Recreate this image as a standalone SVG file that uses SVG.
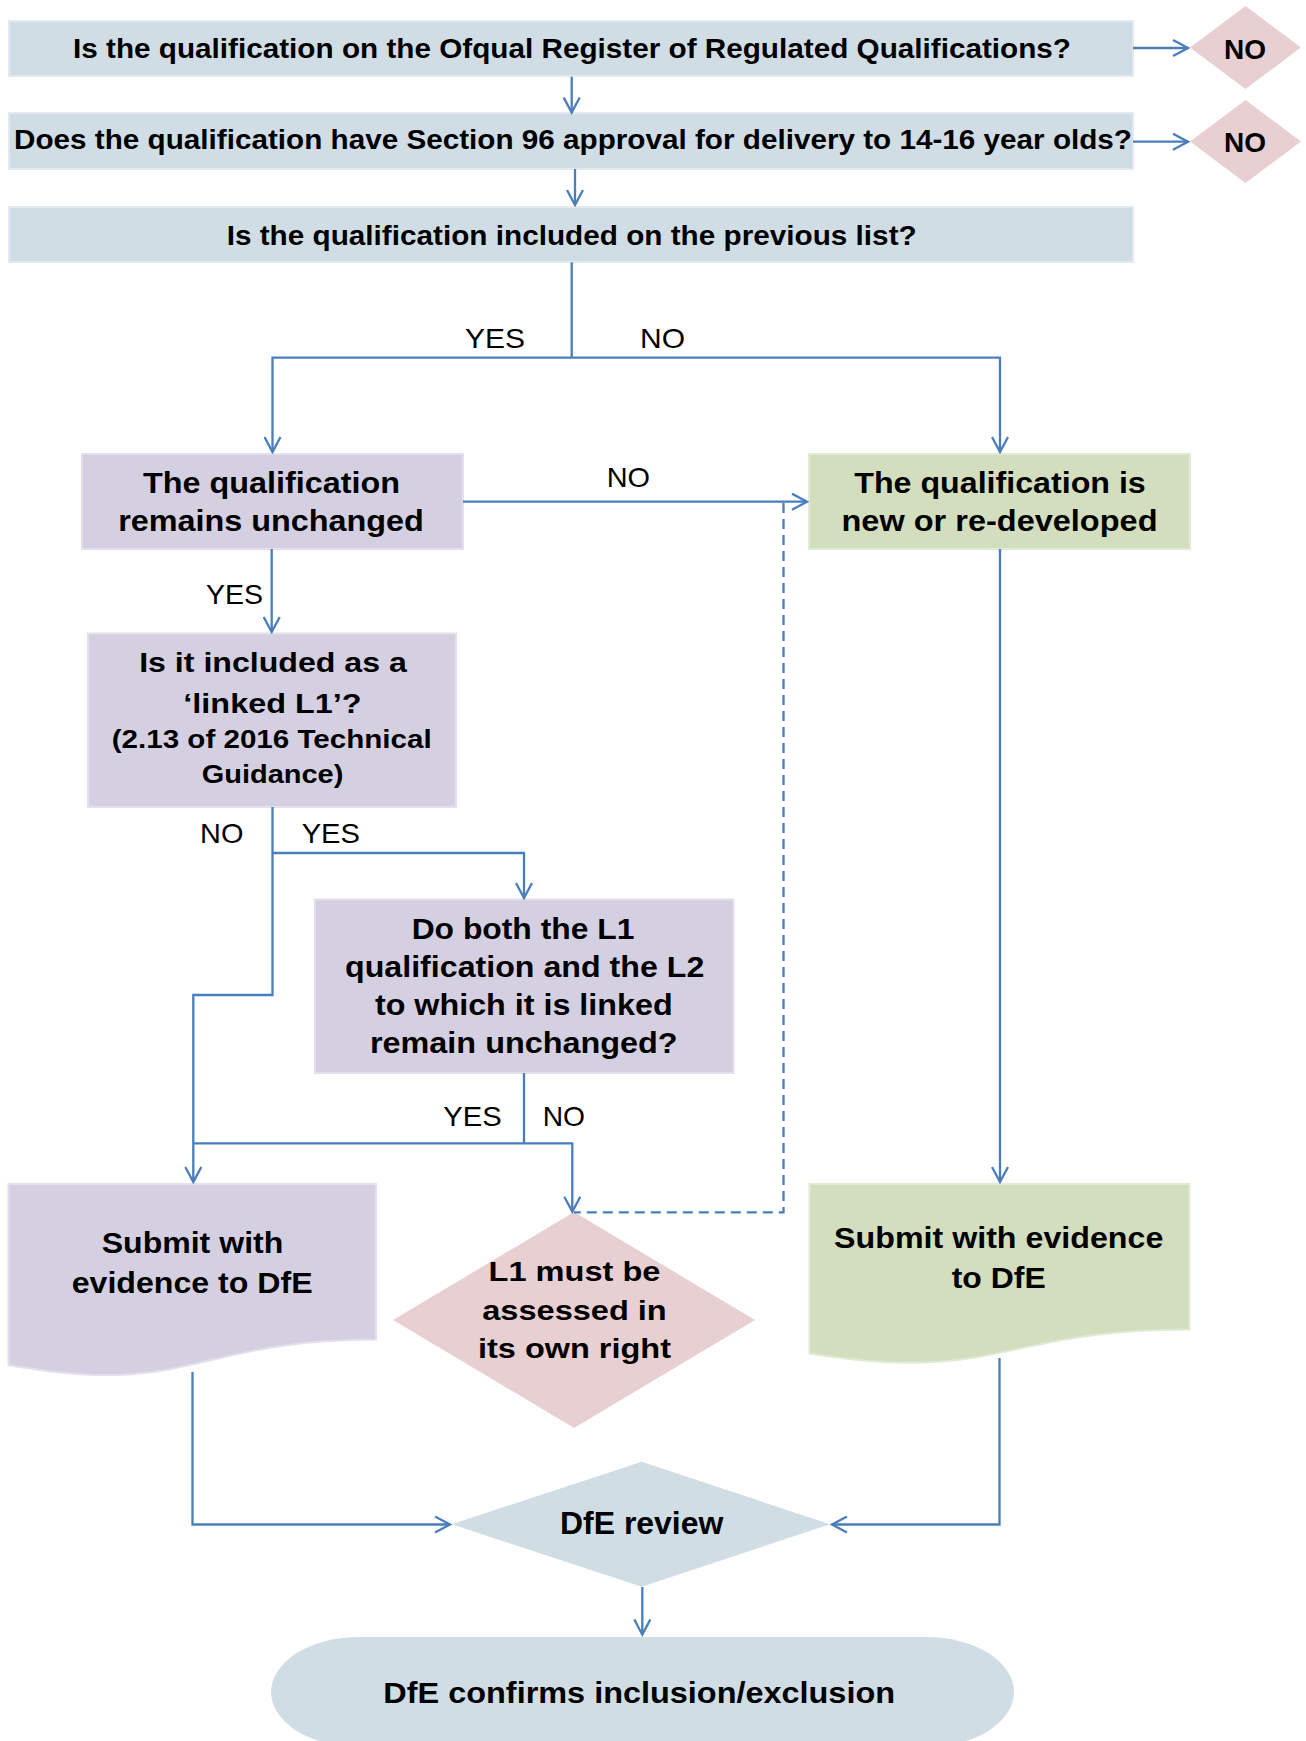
<svg xmlns="http://www.w3.org/2000/svg" width="1306" height="1741" viewBox="0 0 1306 1741">
<style>
.b{font-family:"Liberation Sans",Arial,sans-serif;font-weight:bold;fill:#000;text-anchor:middle}
.r{font-family:"Liberation Sans",Arial,sans-serif;font-weight:normal;fill:#000;text-anchor:middle;font-size:28px}
.blue{fill:#D0DDE5;stroke:#E2EAF0;stroke-width:2}
.purple{fill:#D5D0E1;stroke:#E3DFEC;stroke-width:2}
.green{fill:#D2DEBE;stroke:#E1EAD4;stroke-width:2}
.pink{fill:#E8D0D2}
.c{fill:none;stroke:#4A7EBB;stroke-width:2.3}
.d{fill:none;stroke:#4A7EBB;stroke-width:2.3;stroke-dasharray:10 6}
</style>
<defs>
<marker id="ah" viewBox="0 0 18 18" markerWidth="18" markerHeight="18" refX="16" refY="9" orient="auto" markerUnits="userSpaceOnUse">
<path d="M1,1 L16,9 L1,17" fill="none" stroke="#4A7EBB" stroke-width="2.3"/>
</marker>
</defs>

<g id="q1">
<rect class="blue" x="9" y="21" width="1124" height="55"/>
<text class="b" x="572" y="57.5" font-size="28.5" textLength="998" lengthAdjust="spacingAndGlyphs">Is the qualification on the Ofqual Register of Regulated Qualifications?</text>
</g>
<g id="no1">
<polygon class="pink" points="1190,47.5 1245.5,6 1301,47.5 1245.5,89"/>
<text class="b" x="1245" y="59.3" font-size="28">NO</text>
</g>
<g id="q2">
<rect class="blue" x="9" y="113" width="1124" height="56"/>
<text class="b" x="573" y="149.3" font-size="28.5" textLength="1118" lengthAdjust="spacingAndGlyphs">Does the qualification  have Section 96 approval for delivery to 14-16 year olds?</text>
</g>
<g id="no2">
<polygon class="pink" points="1190,141.5 1245.5,100 1301,141.5 1245.5,183"/>
<text class="b" x="1245" y="151.5" font-size="28">NO</text>
</g>
<g id="q3">
<rect class="blue" x="9" y="207" width="1124" height="55"/>
<text class="b" x="571.7" y="244.5" font-size="28.5" textLength="690" lengthAdjust="spacingAndGlyphs">Is the qualification  included on the previous list?</text>
</g>
<g id="unchanged">
<rect class="purple" x="82" y="454" width="381" height="95"/>
<text class="b" x="271.5" y="493.3" font-size="30" textLength="257" lengthAdjust="spacingAndGlyphs">The qualification</text>
<text class="b" x="271" y="531" font-size="30" textLength="305.7" lengthAdjust="spacingAndGlyphs">remains unchanged</text>
</g>
<g id="newqual">
<rect class="green" x="809" y="454" width="381" height="95"/>
<text class="b" x="1000" y="493.3" font-size="30" textLength="291.5" lengthAdjust="spacingAndGlyphs">The qualification is</text>
<text class="b" x="999.5" y="531" font-size="30" textLength="316" lengthAdjust="spacingAndGlyphs">new or re-developed</text>
</g>
<g id="linked">
<rect class="purple" x="88" y="633.5" width="368" height="173.5"/>
<text class="b" x="273" y="672.3" font-size="27" textLength="267.7" lengthAdjust="spacingAndGlyphs">Is it included as a</text>
<text class="b" x="272.5" y="712.7" font-size="27" textLength="178.3" lengthAdjust="spacingAndGlyphs">‘linked L1’?</text>
<text class="b" x="271.7" y="748.3" font-size="25.5" textLength="320" lengthAdjust="spacingAndGlyphs">(2.13 of 2016 Technical</text>
<text class="b" x="272.5" y="783.3" font-size="25.5" textLength="141.7" lengthAdjust="spacingAndGlyphs">Guidance)</text>
</g>
<g id="both">
<rect class="purple" x="315" y="899.5" width="418.5" height="173.5"/>
<text class="b" x="523" y="939" font-size="30" textLength="222.7" lengthAdjust="spacingAndGlyphs">Do both the L1</text>
<text class="b" x="524.7" y="976.7" font-size="30" textLength="359.3" lengthAdjust="spacingAndGlyphs">qualification and the L2</text>
<text class="b" x="523.8" y="1015" font-size="30" textLength="297.7" lengthAdjust="spacingAndGlyphs">to which it is linked</text>
<text class="b" x="523.8" y="1053.3" font-size="30" textLength="307.7" lengthAdjust="spacingAndGlyphs">remain unchanged?</text>
</g>
<g id="submit1">
<path class="purple" d="M8.5,1184 H376 V1339.5 C192,1339.5 192,1398 8.5,1365 Z"/>
<text class="b" x="192.5" y="1253.3" font-size="30" textLength="181.6" lengthAdjust="spacingAndGlyphs">Submit with</text>
<text class="b" x="192.2" y="1293.3" font-size="30" textLength="241" lengthAdjust="spacingAndGlyphs">evidence to DfE</text>
</g>
<g id="assess">
<polygon class="pink" points="393,1320 574,1212 755,1320 574,1428"/>
<text class="b" x="574.5" y="1281" font-size="27.5" textLength="172" lengthAdjust="spacingAndGlyphs">L1 must be</text>
<text class="b" x="574.5" y="1320" font-size="27.5" textLength="184.5" lengthAdjust="spacingAndGlyphs">assessed in</text>
<text class="b" x="574.5" y="1358" font-size="27.5" textLength="193" lengthAdjust="spacingAndGlyphs">its own right</text>
</g>
<g id="submit2">
<path class="green" d="M809.5,1184 H1189.5 V1329.5 C999.5,1329.5 999.5,1384 809.5,1353.5 Z"/>
<text class="b" x="998.7" y="1248.3" font-size="30" textLength="329.3" lengthAdjust="spacingAndGlyphs">Submit with evidence</text>
<text class="b" x="998.7" y="1288.3" font-size="30" textLength="94" lengthAdjust="spacingAndGlyphs">to DfE</text>
</g>
<g id="review">
<polygon fill="#D0DDE5" points="451.7,1524.3 641.7,1461.7 830,1524.3 641.7,1586.7"/>
<text class="b" x="641.7" y="1534.3" font-size="31" textLength="163.3" lengthAdjust="spacingAndGlyphs">DfE review</text>
</g>
<g id="confirm">
<rect fill="#D0DDE5" x="271" y="1637" width="743" height="110" rx="88" ry="55"/>
<text class="b" x="639.2" y="1703.3" font-size="30" textLength="511.7" lengthAdjust="spacingAndGlyphs">DfE confirms inclusion/exclusion</text>
</g>

<g id="connectors">
<path class="c" d="M1133,48 H1188" marker-end="url(#ah)"/>
<path class="c" d="M1133,141.7 H1188" marker-end="url(#ah)"/>
<path class="c" d="M571.7,76.7 V112.5" marker-end="url(#ah)"/>
<path class="c" d="M575,169 V205" marker-end="url(#ah)"/>
<path class="c" d="M571.7,262.3 V357.7"/>
<path class="c" d="M571.7,357.7 H272.5 V452" marker-end="url(#ah)"/>
<path class="c" d="M571.7,357.7 H1000 V452" marker-end="url(#ah)"/>
<path class="c" d="M463,501.7 H807" marker-end="url(#ah)"/>
<path class="d" d="M783.5,503 V1212.3 H574"/>
<path class="c" d="M271.7,549 V632" marker-end="url(#ah)"/>
<path class="c" d="M272.5,807 V995 H193.3 V1182" marker-end="url(#ah)"/>
<path class="c" d="M272.5,853 H524 V898" marker-end="url(#ah)"/>
<path class="c" d="M524,1073 V1143.3"/>
<path class="c" d="M193.3,1143.3 H572.3 V1211.7" marker-end="url(#ah)"/>
<path class="c" d="M1000,549 V1182" marker-end="url(#ah)"/>
<path class="c" d="M192.5,1372 V1524.5 H450" marker-end="url(#ah)"/>
<path class="c" d="M999.5,1358 V1524.5 H832" marker-end="url(#ah)"/>
<path class="c" d="M642.3,1587 V1634.5" marker-end="url(#ah)"/>
<text class="r" x="495" y="347.7" textLength="60" lengthAdjust="spacingAndGlyphs">YES</text>
<text class="r" x="662.5" y="347.7" textLength="45" lengthAdjust="spacingAndGlyphs">NO</text>
<text class="r" x="628.3" y="486.7" textLength="43.3" lengthAdjust="spacingAndGlyphs">NO</text>
<text class="r" x="234.5" y="604.3" textLength="57" lengthAdjust="spacingAndGlyphs">YES</text>
<text class="r" x="221.7" y="842.7" textLength="43.3" lengthAdjust="spacingAndGlyphs">NO</text>
<text class="r" x="330.8" y="842.7" textLength="58.3" lengthAdjust="spacingAndGlyphs">YES</text>
<text class="r" x="472.5" y="1126" textLength="58.4" lengthAdjust="spacingAndGlyphs">YES</text>
<text class="r" x="563.8" y="1126" textLength="42.3" lengthAdjust="spacingAndGlyphs">NO</text>
</g>
</svg>
